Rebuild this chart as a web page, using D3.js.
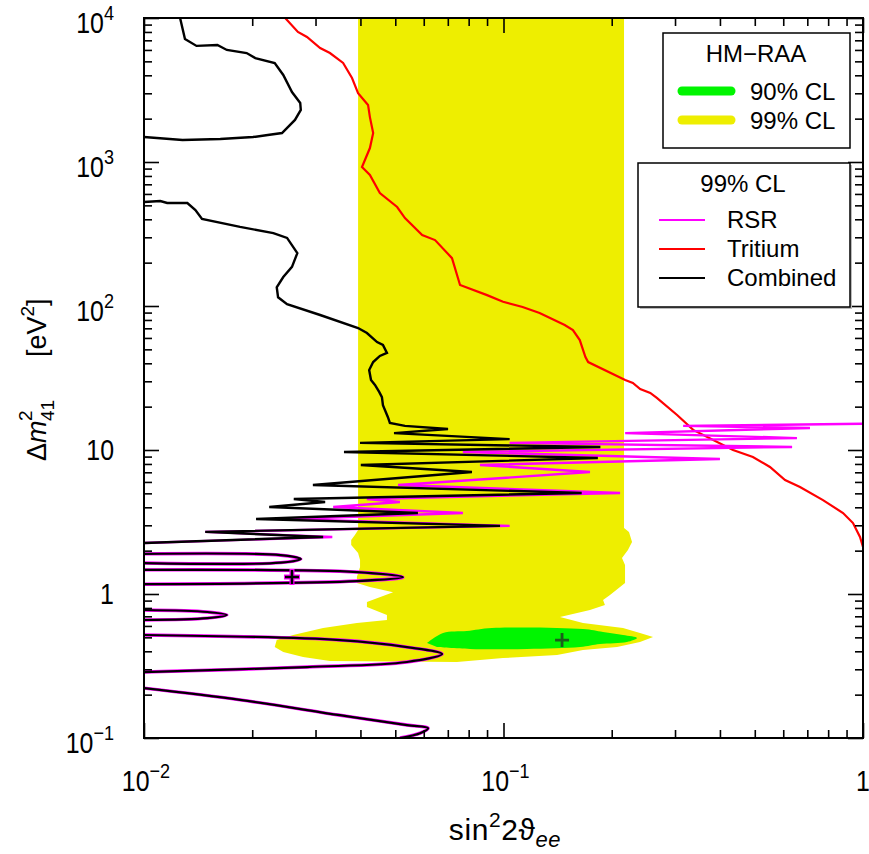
<!DOCTYPE html>
<html>
  <head>
    <meta charset="utf-8">
    <title>Sterile neutrino exclusion</title>
    <script src="https://d3js.org/d3.v7.min.js"></script>
    <style>
      body { margin: 0; background: #fff; }
      text { font-family: "Liberation Sans", Arial, Helvetica, sans-serif; fill: #000; }
    </style>
  </head>
  <body>
    <script>
    var w = 869, h = 854;

    // axis ticks
    var sin2Major = [0.01, 0.1, 1];
    var dm2Major = [0.1, 1, 10, 100, 1000, 10000];
    var sin2Labels = [["10", "\u22122"], ["10", "\u22121"], ["1", ""]];
    var dm2Labels = [["10", "\u22121"], ["1", ""], ["10", ""], ["10", "2"], ["10", "3"], ["10", "4"]];

    // HM-RAA allowed regions [sin^2 2theta, dm2]
    var raa99 = [[0.0394,10000],[0.2164,10000],[0.2164,2.87],[0.2234,2.70],[0.2278,2.30],[0.2219,2.02],[0.2136,1.78],[0.2178,1.59],[0.2178,1.19],[0.1978,0.984],[0.1892,0.908],[0.1915,0.838],[0.174,0.774],[0.1436,0.692],[0.1664,0.629],[0.2150,0.580],[0.2397,0.536],[0.2606,0.503],[0.2397,0.464],[0.2069,0.428],[0.1664,0.408],[0.1409,0.377],[0.0997,0.359],[0.0742,0.337],[0.0329,0.343],[0.0277,0.365],[0.0244,0.396],[0.0231,0.428],[0.0234,0.479],[0.0260,0.519],[0.0315,0.580],[0.0391,0.629],[0.0474,0.660],[0.0474,0.715],[0.0417,0.812],[0.0417,0.880],[0.0493,1.03],[0.0425,1.12],[0.0391,1.19],[0.0391,1.31],[0.0399,1.54],[0.0399,1.72],[0.0394,1.93],[0.0377,2.19],[0.0377,2.37],[0.0386,2.57],[0.0394,2.78]];
    var raa90 = [[0.0613,0.457],[0.0679,0.536],[0.0791,0.553],[0.0929,0.580],[0.1664,0.571],[0.1892,0.545],[0.215,0.519],[0.2351,0.495],[0.2205,0.464],[0.1855,0.449],[0.1633,0.428],[0.1163,0.415],[0.0807,0.415],[0.0653,0.428]];
    var raaBest = [0.1455, 0.479];

    // 99% CL exclusion curves
    var tritium = [[0.0247,10000],[0.0268,8000],[0.0284,7380],[0.0309,6190],[0.0329,5710],[0.0358,4870],[0.0379,3830],[0.0394,3010],[0.0420,2490],[0.0425,2050],[0.0434,1590],[0.0425,1250],[0.0404,923],[0.0425,812],[0.0453,609],[0.0506,487],[0.0532,408],[0.0594,311],[0.0645,287],[0.0719,215],[0.0757,140],[0.0900,119],[0.0997,107],[0.113,98.4],[0.126,89.4],[0.148,73.8],[0.156,68.1],[0.163,58.0],[0.169,44.2],[0.172,40.8],[0.218,30.6],[0.229,29.2],[0.240,26.5],[0.256,24.9],[0.267,23.0],[0.304,17.5],[0.337,13.8],[0.435,10.0],[0.494,8.94],[0.551,7.62],[0.607,6.19],[0.668,5.53],[0.774,4.49],[0.880,3.65],[0.938,3.11],[0.981,2.49],[1.0,2.12]];

    var rsrUpper = [[1.0,15.2],[0.316,14.7],[0.712,14.2],[0.218,13.1],[0.655,12.1],[0.104,11.2],[0.635,10.5],[0.0771,9.69],[0.400,8.66],[0.0860,7.87],[0.174,7.03],[0.0509,5.71],[0.211,5.03],[0.0417,4.57],[0.0515,4.35],[0.0336,4.02],[0.0771,3.65],[0.0252,3.32],[0.104,2.97],[0.0148,2.70],[0.0334,2.49],[0.0100,2.26]];

    var combinedTop = [[0.0126,10000],[0.0130,7150],[0.0140,6400],[0.0160,6490],[0.0170,6000],[0.0193,5710],[0.0204,5270],[0.0231,4870],[0.0244,4020],[0.0258,3060],[0.0272,2570],[0.0273,2300],[0.0263,1960],[0.0242,1590],[0.0221,1540],[0.0201,1490],[0.0163,1445],[0.0128,1420],[0.0100,1490]];
    var combinedMid = [[0.0100,527],[0.0111,536],[0.0116,519],[0.0132,519],[0.0139,464],[0.0145,402],[0.0185,354],[0.0229,321],[0.0250,297],[0.0267,233],[0.0258,187],[0.0244,159],[0.0234,135],[0.0236,115],[0.0250,103],[0.0309,86.6],[0.0394,70.3],[0.0417,64.9],[0.0445,56.2],[0.0462,53.6],[0.0474,47.2],[0.0453,45.0],[0.0434,40.8],[0.0423,35.9],[0.0428,30.6],[0.0439,28.3],[0.0451,25.3],[0.0459,23.3],[0.0462,20.5],[0.0477,16.9],[0.0483,15.4],[0.0532,14.7],[0.0701,14.0],[0.0496,13.1],[0.104,11.9],[0.0399,11.2],[0.186,10.5],[0.0360,9.69],[0.183,8.80],[0.0401,7.87],[0.0817,7.03],[0.0295,5.71],[0.165,5.03],[0.0261,4.57],[0.0319,4.35],[0.0223,4.02],[0.0578,3.65],[0.0205,3.32],[0.0978,2.97],[0.0148,2.70],[0.0315,2.49],[0.0100,2.26]];

    // low-dm2 lobes shared by RSR and combined
    var lobeA = [[0.0100,1.90],[0.0240,1.86],[0.0273,1.75],[0.0240,1.65],[0.0100,1.64]];
    var lobeB = [[0.0100,1.47],[0.0391,1.42],[0.0525,1.31],[0.0391,1.23],[0.0100,1.17]];
    var lobeC = [[0.0100,0.774],[0.0150,0.750],[0.0170,0.715],[0.0150,0.680],[0.0100,0.660]];
    var lobeD = [[0.0100,0.519],[0.0351,0.479],[0.0539,0.428],[0.0675,0.383],[0.0539,0.337],[0.0284,0.311],[0.0100,0.287]];
    var lobeE = [[0.0100,0.222],[0.0185,0.184],[0.0351,0.144],[0.0539,0.123],[0.0617,0.117],[0.0586,0.108],[0.0515,0.100]];
    var rsrBest = [0.0258, 1.31];

    var pl = 144, pr = 863, pt = 18, pb = 738;

    var x = d3.scaleLog().domain([0.01, 1]).range([pl, pr]);
    var y = d3.scaleLog().domain([0.1, 10000]).range([pb, pt]);

    var svg = d3.select("body").append("svg")
      .attr("width", w).attr("height", h);

    svg.append("clipPath").attr("id", "plot")
      .append("rect")
      .attr("x", pl).attr("y", pt)
      .attr("width", pr - pl).attr("height", pb - pt);

    var plot = svg.append("g").attr("clip-path", "url(#plot)");

    var line = d3.line().x(function(d){ return x(d[0]) }).y(function(d){ return y(d[1]) });
    var smooth = d3.line().x(function(d){ return x(d[0]) }).y(function(d){ return y(d[1]) })
      .curve(d3.curveCatmullRom.alpha(0.5));

    plot.append("path").attr("d", line(raa99) + "Z").attr("fill", "#eeee00");
    plot.append("path").attr("d", smooth(raa90) + "Z").attr("fill", "#00f500");

    plot.append("path").attr("d", line(tritium))
      .attr("fill", "none").attr("stroke", "#ff0000").attr("stroke-width", 2.2);

    var lobes = [lobeA, lobeB, lobeC, lobeD, lobeE];

    // RSR (magenta) underneath
    plot.append("path").attr("d", line(rsrUpper))
      .attr("fill", "none").attr("stroke", "#ff00ff").attr("stroke-width", 2.4);
    lobes.forEach(function(l){
      plot.append("path").attr("d", smooth(l))
        .attr("fill", "none").attr("stroke", "#ff00ff").attr("stroke-width", 3.4);
    });

    // combined (black)
    [combinedTop, combinedMid].forEach(function(c){
      plot.append("path").attr("d", line(c))
        .attr("fill", "none").attr("stroke", "#000").attr("stroke-width", 2.4);
    });
    lobes.forEach(function(l){
      plot.append("path").attr("d", smooth(l))
        .attr("fill", "none").attr("stroke", "#000").attr("stroke-width", 2.2);
    });

    function cross(p, color, width, half){
      var cx = x(p[0]), cy = y(p[1]);
      plot.append("path")
        .attr("d", "M" + (cx - half) + "," + cy + "H" + (cx + half) + "M" + cx + "," + (cy - half) + "V" + (cy + half))
        .attr("stroke", color).attr("stroke-width", width).attr("fill", "none");
    }
    cross(rsrBest, "#ff00ff", 5, 8);
    cross(rsrBest, "#000", 2.5, 7);
    cross(raaBest, "#1b5e1b", 2.8, 7);

    // ticks on all four sides, pointing inward
    function minorTicks(domain){
      var out = [];
      for (var e = Math.log10(domain[0]); e < Math.log10(domain[1]) - 0.01; e++) {
        for (var k = 2; k <= 9; k++) out.push(k * Math.pow(10, e));
      }
      return out;
    }
    var sin2Minor = minorTicks(x.domain());
    var dm2Minor = minorTicks(y.domain());

    function ticks(axis, tr, values, size){
      svg.append("g").attr("transform", tr)
        .call(axis.tickValues(values).tickSize(-size).tickFormat(""))
        .call(function(g){ g.select(".domain").remove() })
        .selectAll("line").attr("stroke", "#000").attr("stroke-width", 1.6);
    }
    ticks(d3.axisBottom(x), "translate(0," + pb + ")", sin2Major, 15);
    ticks(d3.axisBottom(x), "translate(0," + pb + ")", sin2Minor, 8);
    ticks(d3.axisTop(x), "translate(0," + pt + ")", sin2Major, 15);
    ticks(d3.axisTop(x), "translate(0," + pt + ")", sin2Minor, 8);
    ticks(d3.axisLeft(y), "translate(" + pl + ",0)", dm2Major, 15);
    ticks(d3.axisLeft(y), "translate(" + pl + ",0)", dm2Minor, 8);
    ticks(d3.axisRight(y), "translate(" + pr + ",0)", dm2Major, 15);
    ticks(d3.axisRight(y), "translate(" + pr + ",0)", dm2Minor, 8);

    svg.append("rect")
      .attr("x", pl).attr("y", pt)
      .attr("width", pr - pl).attr("height", pb - pt)
      .attr("fill", "none").attr("stroke", "#000").attr("stroke-width", 2);

    // tick labels (narrow, tall glyphs as in the original)
    function powLabel(tx, ty, anchor, lab){
      var t = svg.append("g").attr("transform", "translate(" + tx + "," + ty + ") scale(0.86,1)")
        .append("text").attr("font-size", 29).attr("text-anchor", anchor);
      t.append("tspan").text(lab[0]);
      if (lab[1]) t.append("tspan").attr("dy", -13).attr("font-size", 21).text(lab[1]);
    }
    sin2Major.forEach(function(v, i){
      powLabel(x(v) + (sin2Labels[i][1] ? 2 : 0), 791, "middle", sin2Labels[i]);
    });
    dm2Major.forEach(function(v, i){
      var lab = dm2Labels[i];
      powLabel(114, y(v) + (lab[1] ? 15 : 10), "end", lab);
    });

    // axis titles
    var xt = svg.append("text").attr("x", 505).attr("y", 840)
      .attr("font-size", 30).attr("letter-spacing", 0.6).attr("text-anchor", "middle");
    xt.append("tspan").text("sin");
    xt.append("tspan").attr("dy", -13).attr("font-size", 21).text("2");
    xt.append("tspan").attr("dy", 13).text("2\u03d1");
    xt.append("tspan").attr("dy", 7).attr("font-size", 22).attr("font-style", "italic").text("ee");

    var yt = svg.append("g").attr("transform", "translate(46,461) rotate(-90)");
    var yt1 = yt.append("text").attr("x", 0).attr("y", 0).attr("font-size", 27);
    yt1.append("tspan").text("\u0394");
    yt1.append("tspan").attr("font-style", "italic").text("m");
    yt.append("text").attr("x", 40).attr("y", -14).attr("font-size", 19).text("2");
    yt.append("text").attr("x", 40).attr("y", 8).attr("font-size", 19).text("41");
    var yt2 = yt.append("text").attr("x", 104).attr("y", 0).attr("font-size", 27);
    yt2.append("tspan").text("[eV");
    yt2.append("tspan").attr("dy", -12).attr("font-size", 19).text("2");
    yt2.append("tspan").attr("dy", 12).text("]");

    // legends
    var leg1 = svg.append("g");
    leg1.append("rect").attr("x", 663).attr("y", 33).attr("width", 187).attr("height", 115)
      .attr("fill", "#fff").attr("stroke", "#000").attr("stroke-width", 1.5);
    leg1.append("text").attr("x", 756).attr("y", 62).attr("font-size", 24)
      .attr("text-anchor", "middle").text("HM\u2212RAA");
    [["#00f500", "90% CL", 91], ["#eeee00", "99% CL", 120]].forEach(function(e){
      leg1.append("line").attr("x1", 682).attr("x2", 731).attr("y1", e[2]).attr("y2", e[2])
        .attr("stroke", e[0]).attr("stroke-width", 9).attr("stroke-linecap", "round");
      leg1.append("text").attr("x", 750).attr("y", e[2] + 9).attr("font-size", 24).text(e[1]);
    });

    var leg2 = svg.append("g");
    leg2.append("rect").attr("x", 640).attr("y", 165).attr("width", 212).attr("height", 144)
      .attr("fill", "#bbb");
    leg2.append("rect").attr("x", 638).attr("y", 163).attr("width", 212).attr("height", 144)
      .attr("fill", "#fff").attr("stroke", "#000").attr("stroke-width", 1.5);
    leg2.append("text").attr("x", 743).attr("y", 192).attr("font-size", 24)
      .attr("text-anchor", "middle").text("99% CL");
    [["#ff00ff", "RSR", 220], ["#ff0000", "Tritium", 249], ["#000", "Combined", 278]].forEach(function(e){
      leg2.append("line").attr("x1", 659).attr("x2", 705).attr("y1", e[2]).attr("y2", e[2])
        .attr("stroke", e[0]).attr("stroke-width", 2);
      leg2.append("text").attr("x", 727).attr("y", e[2] + 8).attr("font-size", 24).text(e[1]);
    });
    </script>
  </body>
</html>
